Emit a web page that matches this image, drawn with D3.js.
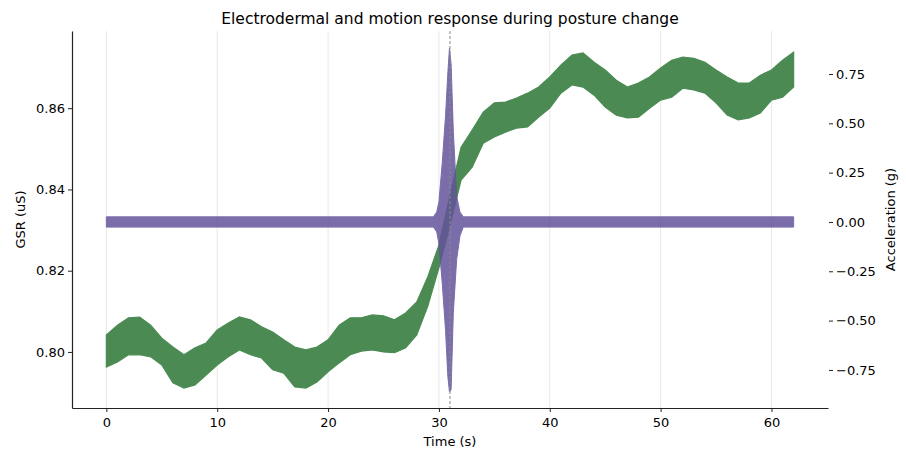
<!DOCTYPE html>
<html>
<head>
<meta charset="utf-8">
<script src="https://cdn.jsdelivr.net/npm/d3@7"></script>
<style>
  body { margin: 0; background: #fff; }
  text { font-family: "DejaVu Sans", sans-serif; fill: #000; }
</style>
</head>
<body>
<script>
// GSR band (upper / lower edge of the noisy trace), one reading per second
var gsrTime = d3.range(0, 63);
var gsrHigh = [0.8042,0.8066,0.8084,0.8086,0.8066,0.8034,0.8012,0.7993,0.8010,0.8022,
               0.8054,0.8071,0.8086,0.8079,0.8062,0.8049,0.8030,0.8012,0.8005,0.8012,
               0.8030,0.8066,0.8084,0.8084,0.8091,0.8089,0.8079,0.8096,0.8123,0.8185,
               0.8263,0.8386,0.8504,0.8546,0.8590,0.8613,0.8615,0.8625,0.8637,0.8652,
               0.8677,0.8706,0.8731,0.8736,0.8713,0.8694,0.8669,0.8652,0.8662,0.8677,
               0.8699,0.8718,0.8726,0.8723,0.8713,0.8694,0.8677,0.8662,0.8662,0.8681,
               0.8694,0.8718,0.8738];
var gsrLow  = [0.7963,0.7975,0.7993,0.7993,0.7988,0.7968,0.7924,0.7911,0.7919,0.7943,
               0.7968,0.7988,0.8005,0.7993,0.7985,0.7956,0.7948,0.7914,0.7911,0.7926,
               0.7951,0.7973,0.7993,0.8002,0.8005,0.8000,0.7998,0.8010,0.8042,0.8113,
               0.8207,0.8312,0.8423,0.8455,0.8514,0.8529,0.8541,0.8551,0.8554,0.8578,
               0.8600,0.8637,0.8657,0.8652,0.8632,0.8603,0.8583,0.8576,0.8578,0.8600,
               0.8620,0.8627,0.8649,0.8645,0.8637,0.8613,0.8583,0.8571,0.8576,0.8588,
               0.8620,0.8627,0.8652];

// acceleration band, burst around the posture change
var accTime = [0, 29.5, 29.8, 30.0, 30.3, 30.6, 30.8, 30.95, 31.1, 31.3, 31.6, 31.9, 32.2, 62];
var accHigh = [0.026, 0.026, 0.05, 0.10, 0.30, 0.54, 0.75, 0.88, 0.80, 0.46, 0.13, 0.05, 0.026, 0.026];
var accLow  = [-0.026, -0.026, -0.05, -0.11, -0.31, -0.55, -0.78, -0.86, -0.85, -0.46, -0.19, -0.07, -0.026, -0.026];

var eventTime = 31;
var xTicks = [0, 10, 20, 30, 40, 50, 60];
var gsrTicks = [0.80, 0.82, 0.84, 0.86];
var accTicks = [-0.75, -0.5, -0.25, 0, 0.25, 0.5, 0.75];

var W = 906, H = 452;
var margin = {top: 31, right: 78, bottom: 44, left: 72};
var plotL = margin.left, plotR = W - margin.right,
    plotT = margin.top, plotB = H - margin.bottom;

var svg = d3.select("body").append("svg")
  .attr("width", W)
  .attr("height", H);

var x = d3.scaleLinear().domain([-3.1, 65.1]).range([plotL, plotR]);
var yG = d3.scaleLinear().domain([0.7862, 0.8790]).range([plotB, plotT]);
var yA = d3.scaleLinear().domain([-0.943, 0.968]).range([plotB, plotT]);

// grid
svg.append("g").selectAll("line")
  .data(xTicks).enter().append("line")
  .attr("x1", d => x(d)).attr("x2", d => x(d))
  .attr("y1", plotT).attr("y2", plotB)
  .attr("stroke", "#e8e8e8").attr("stroke-width", 1);

var gsrRows = gsrTime.map((t, i) => ({t: t, hi: gsrHigh[i], lo: gsrLow[i]}));
var accRows = accTime.map((t, i) => ({t: t, hi: accHigh[i], lo: accLow[i]}));

svg.append("path")
  .datum(gsrRows)
  .attr("fill", "#4b8b53")
  .attr("stroke", "#4b8b53")
  .attr("stroke-width", 1.2)
  .attr("d", d3.area().x(d => x(d.t)).y0(d => yG(d.lo)).y1(d => yG(d.hi)));

svg.append("path")
  .datum(accRows)
  .attr("fill", "#63529a")
  .attr("stroke", "#63529a")
  .attr("stroke-width", 1)
  .attr("opacity", 0.84)
  .attr("d", d3.area().x(d => x(d.t)).y0(d => yA(d.lo)).y1(d => yA(d.hi)));

// event marker
svg.append("line")
  .attr("x1", x(eventTime)).attr("x2", x(eventTime))
  .attr("y1", plotT).attr("y2", plotB)
  .attr("stroke", "#8a8a8a")
  .attr("stroke-width", 1)
  .attr("stroke-dasharray", "3,2");

// axes
var xAxis = svg.append("g")
  .attr("transform", "translate(0," + plotB + ")")
  .call(d3.axisBottom(x).tickValues(xTicks).tickFormat(d3.format("d")).tickSize(4).tickSizeOuter(0));

var yAxisL = svg.append("g")
  .attr("transform", "translate(" + plotL + ",0)")
  .call(d3.axisLeft(yG).tickValues(gsrTicks).tickFormat(d3.format(".2f")).tickSize(4).tickSizeOuter(0));

var yAxisR = svg.append("g")
  .attr("transform", "translate(" + (plotR + 1) + ",0)")
  .call(d3.axisRight(yA).tickValues(accTicks).tickFormat(d3.format(".2f")).tickSize(4).tickSizeOuter(0));
yAxisR.select(".domain").remove();

[xAxis, yAxisL, yAxisR].forEach(function(g) {
  g.selectAll("text").style("font-size", "13px").style("font-family", "DejaVu Sans, sans-serif");
  g.selectAll("line").attr("stroke", "#222");
  g.select(".domain").attr("stroke", "#222").attr("stroke-width", 1.2);
});
xAxis.selectAll("text").attr("dy", "0.95em");

// labels
svg.append("text")
  .attr("x", (plotL + plotR) / 2).attr("y", 24)
  .attr("text-anchor", "middle")
  .style("font-size", "15.5px")
  .text("Electrodermal and motion response during posture change");

svg.append("text")
  .attr("x", (plotL + plotR) / 2).attr("y", 446)
  .attr("text-anchor", "middle")
  .style("font-size", "13px")
  .text("Time (s)");

svg.append("text")
  .attr("transform", "translate(25," + ((plotT + plotB) / 2) + ") rotate(-90)")
  .attr("text-anchor", "middle")
  .style("font-size", "13px")
  .text("GSR (uS)");

svg.append("text")
  .attr("transform", "translate(895," + ((plotT + plotB) / 2) + ") rotate(-90)")
  .attr("text-anchor", "middle")
  .style("font-size", "13px")
  .text("Acceleration (g)");
</script>
</body>
</html>
